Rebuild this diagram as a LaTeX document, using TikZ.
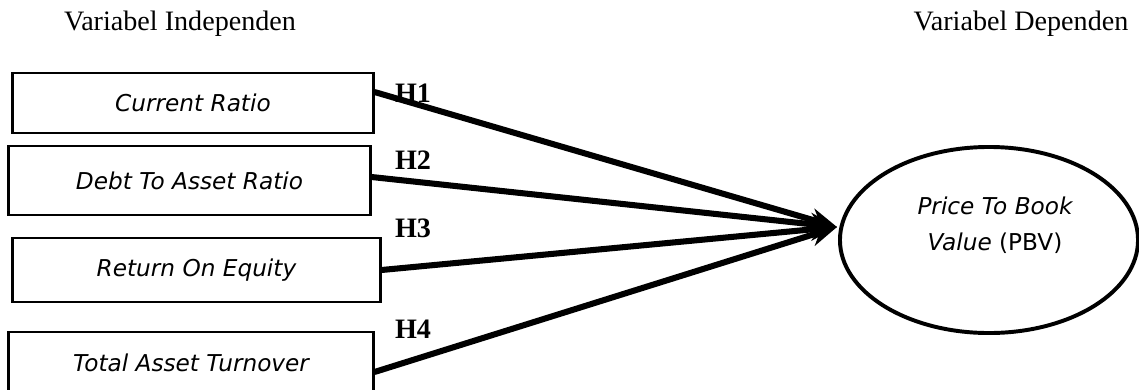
\documentclass[tikz,border=0pt]{standalone}
\usepackage{fontspec}
\setmainfont{Liberation Serif}
\newfontfamily\boxfont{DejaVu Sans}
\usetikzlibrary{shapes.geometric, arrows.meta}
\tikzset{varbox/.style={draw, rectangle, line width=2.1pt, inner sep=0pt, font=\boxfont\fontsize{16.5}{20}\selectfont\itshape}}
\tikzset{hyp/.style={line width=4.3pt, -{Stealth[length=19pt, width=16pt]}}}
\tikzset{hlabel/.style={font=\fontsize{20}{24}\selectfont\bfseries}}
\tikzset{vartitle/.style={font=\fontsize{20}{24}\selectfont}}
\begin{document}
\begin{tikzpicture}[x=0.025cm, y=-0.025cm]
\useasboundingbox (0,0) rectangle (1139,389);
\node[vartitle] (indep) at (180,24) {Variabel Independen};
\node[vartitle] (dep) at (1021,24) {Variabel Dependen};
% independent variables
\node[varbox, minimum width=9cm, minimum height=1.5cm] (cr) at (193,103) {Current Ratio};
\node[varbox, minimum width=9.025cm, minimum height=1.725cm] (dar) at (189.5,180.5) {Debt To Asset Ratio};
\node[varbox, minimum width=9.175cm, minimum height=1.6cm] (roe) at (196.5,270) {Return On Equity};
\node[varbox, minimum width=9.1cm, minimum height=1.55cm] (tato) at (191,363) {Total Asset Turnover};
% dependent variable
\node[draw, ellipse, line width=2.8pt, minimum width=7.45cm, minimum height=4.65cm] (pbv) at (989,240) {};
\node[font=\boxfont\fontsize{16.5}{25.6}\selectfont, align=center] (pbvtext) at (995,225) {\itshape Price To Book\\ \itshape Value\upshape{} (PBV)};
\coordinate (tip) at (837,227);
\draw[hyp] ([yshift=0.275cm]cr.east) -- (tip);
\draw[hyp] ([yshift=0.0875cm]dar.east) -- (tip);
\draw[hyp] (roe.east) -- (tip);
\draw[hyp] ([yshift=-0.225cm]tato.east) -- (tip);
\node[hlabel] (h1) at (413,93) {H1};
\node[hlabel] (h2) at (413,160) {H2};
\node[hlabel] (h3) at (413,228) {H3};
\node[hlabel] (h4) at (413,329) {H4};
\end{tikzpicture}
\end{document}
